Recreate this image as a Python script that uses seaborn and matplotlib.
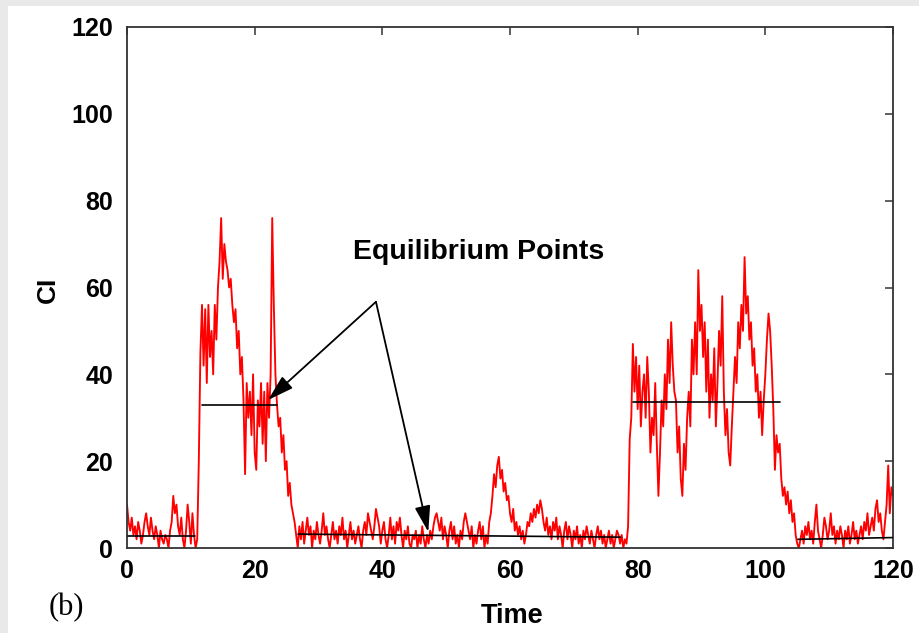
import numpy as np
import pandas as pd
import matplotlib
matplotlib.use("Agg")
import matplotlib.pyplot as plt
from matplotlib.patches import Rectangle
import seaborn as sns

# ---- CI time series, sampled every 0.25 time units ----
SAMPLE_STEP = 0.25

# t = 0 .. 10.75 : quiet start
ci_quiet_start = [10, 6, 4, 7, 3, 5, 2, 6, 4, 1, 3, 6, 8, 5, 3, 7, 4, 2, 5, 3,
                  0, 4, 2, 1, 3, 2, 0, 4, 6, 12, 8, 10, 5, 3, 7, 2, 0, 4, 10, 6,
                  1, 8, 3, 0]
# t = 11 .. 26.75 : first burst
ci_burst_one = [2, 20, 45, 56, 42, 55, 38, 56, 44, 50,
                40, 56, 48, 60, 66, 76, 62, 70, 66, 64,
                60, 62, 56, 52, 55, 46, 50, 40, 44, 34,
                17, 38, 30, 36, 26, 40, 22, 18, 34, 28,
                38, 24, 36, 20, 38, 30, 40, 76, 56, 40,
                33, 28, 30, 22, 26, 18, 20, 12, 15, 10,
                8, 6, 3, 0]
# t = 27 .. 78.5 : long quiet stretch
ci_quiet_middle = [5, 2, 6, 1, 4, 7, 3, 5, 0, 4, 2, 6, 3, 1, 4, 8, 3, 5, 2, 0,
                   3, 6, 2, 4, 1, 5, 3, 7, 2, 4, 0, 3, 6, 2, 4, 1, 3, 5, 2, 0,
                   4, 6, 3, 8, 6, 4, 2, 5, 9, 7, 5, 1, 4, 6, 2, 0, 3, 7, 2, 5,
                   1, 6, 4, 7, 3, 0, 4, 2, 5, 1, 0, 3, 2, 4, 0, 3, 1, 5, 2, 0,
                   3, 1, 4, 2, 5, 7, 8, 6, 4, 7, 2, 5, 3, 0, 4, 6, 2, 5, 1, 3,
                   0, 4, 2, 6, 8, 6, 4, 2, 5, 0, 3, 1, 4, 6, 2, 5, 0, 3, 1, 6,
                   8, 12, 17, 14, 19, 21, 16, 18, 13, 15, 11, 12, 8, 6, 9, 4, 6, 3, 5, 2,
                   4, 1, 3, 6, 5, 8, 6, 9, 7, 10, 8, 11, 9, 6, 4, 7, 3, 5, 2, 6,
                   4, 7, 2, 5, 3, 0, 4, 6, 2, 5, 3, 0, 4, 2, 5, 1, 3, 0, 4, 2,
                   5, 3, 1, 4, 2, 0, 3, 5, 2, 4, 1, 3, 0, 2, 4, 1, 3, 0, 2, 4,
                   3, 1, 3, 0, 2, 1, 5]
# t = 78.75 .. 105.25 : second burst
ci_burst_two = [25,
                30, 47, 36, 44, 32, 42, 28, 36, 40, 30, 44, 36, 22, 30, 26, 38,
                24, 12, 22, 34, 28, 40, 32, 48, 38, 52, 42, 36, 34, 22, 28, 16,
                12, 24, 18, 30, 36, 28, 48, 40, 52, 40, 64, 50, 56, 44, 52, 36,
                48, 30, 40, 34, 46, 28, 38, 50, 42, 58, 36, 26, 32, 22, 19, 28,
                36, 44, 38, 52, 46, 56, 50, 67, 54, 58, 48, 52, 42, 46, 36, 40,
                30, 36, 26, 34, 40, 48, 54, 50, 42, 32, 18, 26, 22, 24, 16, 12,
                14, 10, 13, 8, 11, 6, 8, 3, 1, 0]
# t = 105.5 .. 120 : quiet end
ci_quiet_end = [2, 4, 1, 5, 3, 6, 2, 4, 1, 6, 10, 4, 2, 0, 3, 7, 5, 2, 4, 8,
                3, 5, 1, 4, 2, 5, 3, 0, 4, 2, 5, 1, 3, 6, 2, 4, 1, 3, 5, 2,
                6, 4, 8, 3, 5, 7, 4, 9, 11, 6, 8, 4, 2, 6, 10, 19, 8, 14, 12]

ci_values = ci_quiet_start + ci_burst_one + ci_quiet_middle + ci_burst_two + ci_quiet_end
time_values = np.arange(len(ci_values)) * SAMPLE_STEP
series = pd.DataFrame({"Time": time_values, "CI": ci_values})

# ---- equilibrium levels (start time, end time, level at start, level at end) ----
eq_t_start = [0.1, 11.75, 26.8, 79.2, 105.1]
eq_t_end = [10.7, 23.5, 77.3, 102.3, 119.9]
eq_level_start = [2.7, 33.0, 3.2, 33.6, 2.0]
eq_level_end = [2.7, 33.0, 2.5, 33.6, 2.4]

# ---- annotation ----
note_text = "Equilibrium Points"
note_xy = (55.1, 68.2)
arrow_tail = (39.0, 56.7)
arrow_heads = [(22.1, 34.1), (47.2, 3.7)]

x_ticks = [0, 20, 40, 60, 80, 100, 120]
y_ticks = [0, 20, 40, 60, 80, 100, 120]

sns.set_theme(style="white")
plt.rcParams["font.family"] = ["Liberation Sans", "DejaVu Sans"]

W, H = 920, 633
fig = plt.figure(figsize=(W / 100, H / 100), dpi=100)
fig.patch.set_facecolor("#e9e9e9")
fig.patches.append(Rectangle((8 / W, 0), 1, 1 - 6 / H, transform=fig.transFigure,
                             facecolor="white", edgecolor="none", zorder=-5))

ax = fig.add_axes([127 / W, 1 - 548 / H, (893 - 127) / W, (548 - 27) / H])
ax.set_facecolor("white")

sns.lineplot(data=series, x="Time", y="CI", ax=ax, color="#ff0000", linewidth=1.35,
             estimator=None, sort=False)

for t0, t1, v0, v1 in zip(eq_t_start, eq_t_end, eq_level_start, eq_level_end):
    ax.plot([t0, t1], [v0, v1], color="black", linewidth=1.2, zorder=3)

ax.text(note_xy[0], note_xy[1], note_text, ha="center", va="center",
        fontsize=20.5, fontweight="bold", color="black")
for head in arrow_heads:
    ax.annotate("", xy=head, xytext=arrow_tail,
                arrowprops=dict(arrowstyle="-|>,head_length=1.0,head_width=0.3",
                                color="black", lw=1.3, shrinkA=0, shrinkB=0,
                                mutation_scale=16))

ax.set_xlim(0, 120)
ax.set_ylim(0, 120)
ax.set_xticks(x_ticks)
ax.set_yticks(y_ticks)
ax.set_xticklabels([str(v) for v in x_ticks], fontsize=18, fontweight="bold")
ax.set_yticklabels([str(v) for v in y_ticks], fontsize=18, fontweight="bold")
ax.tick_params(axis="both", direction="in", length=6, width=1.2, color="#444444",
               top=True, right=True, labelcolor="black")
ax.tick_params(axis="x", pad=8)
ax.tick_params(axis="y", pad=10)

for side in ["left", "right", "top", "bottom"]:
    ax.spines[side].set_visible(True)
    ax.spines[side].set_color("#333333")
    ax.spines[side].set_linewidth(1.3)

ax.set_xlabel("Time", fontsize=19.5, fontweight="bold", color="black")
ax.set_ylabel("CI", fontsize=19, fontweight="bold", color="black")
ax.xaxis.set_label_coords((512 - 127) / 766, (548 - 603) / 521)
ax.yaxis.set_label_coords((60 - 127) / 766, (548 - 290) / 521)

fig.text(66 / W, 1 - 608 / H, "(b)", ha="center", va="center", fontsize=22,
         family=["Liberation Serif", "DejaVu Serif"], color="black")

fig.savefig("out.png", dpi=100, facecolor=fig.get_facecolor())
